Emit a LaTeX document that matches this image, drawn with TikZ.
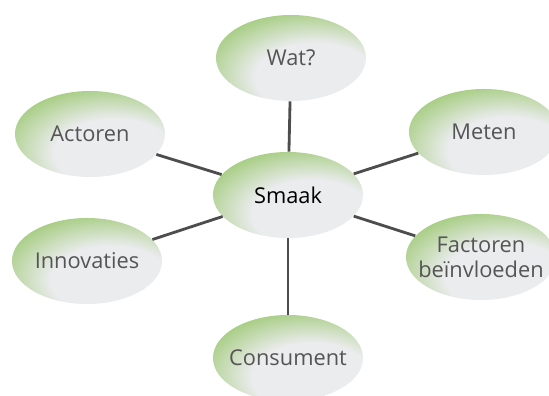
\documentclass[tikz,border=0pt]{standalone}
\usepackage{fontspec}
\setmainfont{Open Sans}
\usetikzlibrary{shapes.geometric}
\definecolor{bubblegreen}{RGB}{140,193,88}
\definecolor{bubblegray}{RGB}{235,236,238}
\definecolor{spoke}{RGB}{77,77,77}
\definecolor{labelgray}{RGB}{85,85,85}
\pgfdeclareradialshading{bubble}{\pgfpoint{10bp}{-14bp}}{color(0bp)=(bubblegray); color(20bp)=(bubblegray); color(43bp)=(bubblegreen); color(100bp)=(bubblegreen)}

\begin{document}
\begin{tikzpicture}[x=0.025cm,y=-0.025cm]
\tikzstyle{every node}=[ellipse,shade,shading=bubble,minimum width=3.75cm,minimum height=2.15cm,inner xsep=-10pt,inner ysep=-4pt,text=labelgray,font=\fontsize{15.5}{18}\selectfont,align=center]
\useasboundingbox (0,0) rectangle (549,396);
\node (smaak) at (288,195) [text=black] {Smaak};
\node (wat) at (291,58) {Wat?};
\node (actoren) at (90,134) {Actoren};
\node (meten) at (484,132) {Meten};
\node (innovaties) at (87,261) {Innovaties};
\node (factoren) at (481,257) {Factoren\\beïnvloeden};
\node (consument) at (288,358) {Consument};
\draw [spoke,line width=2pt] (smaak) -- (wat);
\draw [spoke,line width=2pt] (smaak) -- (actoren);
\draw [spoke,line width=2pt] (smaak) -- (meten);
\draw [spoke,line width=2pt] (smaak) -- (innovaties);
\draw [spoke,line width=2pt] (smaak) -- (factoren);
\draw [spoke,line width=2pt] (smaak) -- (consument);
\end{tikzpicture}
\end{document}
